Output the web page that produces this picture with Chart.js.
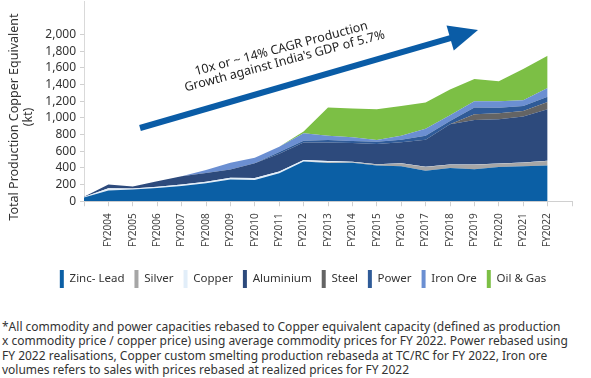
<!DOCTYPE html>
<html>
<head>
<meta charset="utf-8">
<script src="https://cdn.jsdelivr.net/npm/chart.js@4.4.0/dist/chart.umd.min.js"></script>
<style>
  html, body { margin: 0; padding: 0; background: #fff; }
  body { width: 591px; height: 378px; position: relative; overflow: hidden; font-family: 'Noto Sans', sans-serif; }
  #wrap { position: absolute; left: 0; top: -10px; width: 591px; height: 308px; }
  #note { position: absolute; left: 2px; top: 320px; font-size: 12px; line-height: 14.3px; color: #333; white-space: nowrap; }
</style>
</head>
<body>
<div id="wrap"><canvas id="chart"></canvas></div>
<div id="note">*All commodity and power capacities rebased to Copper equivalent capacity (defined as production<br>x commodity price / copper price) using average commodity prices for FY 2022. Power rebased using<br>FY 2022 realisations, Copper custom smelting production rebaseda at TC/RC for FY 2022, Iron ore<br>volumes refers to sales with prices rebased at realized prices for FY 2022</div>
<script>
// x categories: first point (FY2003) and a spare slot at the end have no label
const years = ['', 'FY2004', 'FY2005', 'FY2006', 'FY2007', 'FY2008', 'FY2009', 'FY2010', 'FY2011', 'FY2012',
    'FY2013', 'FY2014', 'FY2015', 'FY2016', 'FY2017', 'FY2018', 'FY2019', 'FY2020', 'FY2021', 'FY2022', ''];

// Copper equivalent production (kt)
const zincLead  = [45, 130, 140, 160, 184, 215, 260, 255, 336, 478, 458, 462, 430, 419, 366, 400, 383, 411, 419, 430];
const silver    = [0, 0, 0, 0, 0, 0, 0, 0, 0, 0, 10, 6, 12, 35, 46, 39, 56, 40, 44, 53];
const copper    = [5, 25, 14, 14, 18, 20, 22, 23, 21, 16, 14, 6, 2, 2, 2, 2, 2, 2, 2, 2];
const aluminium = [5, 45, 22, 67, 98, 105, 100, 177, 213, 211, 223, 226, 244, 252, 323, 484, 534, 531, 551, 618];
const steel     = [0, 0, 0, 0, 0, 0, 0, 0, 0, 0, 0, 0, 0, 0, 0, 0, 70, 72, 67, 87];
const power     = [0, 0, 0, 0, 0, 0, 0, 0, 20, 22, 30, 22, 27, 31, 49, 39, 80, 67, 59, 64];
const ironOre   = [0, 0, 0, 0, 0, 35, 80, 67, 65, 88, 51, 45, 20, 47, 84, 68, 76, 78, 71, 106];
const oilGas    = [0, 0, 0, 0, 0, 0, 0, 0, 0, 23, 338, 346, 368, 356, 316, 308, 266, 238, 373, 387];

const yTicks = [0, 200, 400, 600, 800, 1000, 1200, 1400, 1600, 1800, 2000];

const series = [
    ['Zinc- Lead', zincLead, '#0b5fa5'],
    ['Silver', silver, '#a6a6a6'],
    ['Copper', copper, '#e2eef9'],
    ['Aluminium', aluminium, '#2d4a7c'],
    ['Steel', steel, '#646464'],
    ['Power', power, '#2f5b98'],
    ['Iron Ore', ironOre, '#6b8fd2'],
    ['Oil & Gas', oilGas, '#7cbf45']
];

const FONT = "'Noto Sans', sans-serif";
const SHIFT = 10; // canvas sits 10px above the page top

// arrow and its caption, plus the two-line y axis title
const decor = {
    id: 'decor',
    afterDraw(chart) {
        const ctx = chart.ctx;
        ctx.save();
        ctx.translate(0, SHIFT);

        // y title
        ctx.save();
        ctx.fillStyle = '#333';
        ctx.font = '12.5px ' + FONT;
        ctx.textAlign = 'center';
        ctx.textBaseline = 'middle';
        ctx.translate(14, 117);
        ctx.rotate(-Math.PI / 2);
        ctx.fillText('Total Production Copper Equivalent', 0, 0);
        ctx.fillText('(kt)', 0, 14);
        ctx.restore();

        // arrow
        const x0 = 140, y0 = 128, tx = 478, ty = 30;
        const dx = tx - x0, dy = ty - y0, len = Math.hypot(dx, dy);
        const ux = dx / len, uy = dy / len, nx = -uy, ny = ux;
        const headLen = 29, headW = 13;
        const bx = tx - ux * headLen, by = ty - uy * headLen;
        ctx.strokeStyle = '#0a5ca6';
        ctx.fillStyle = '#0a5ca6';
        ctx.lineWidth = 6;
        ctx.beginPath();
        ctx.moveTo(x0, y0);
        ctx.lineTo(bx + ux * 2, by + uy * 2);
        ctx.stroke();
        ctx.beginPath();
        ctx.moveTo(tx, ty);
        ctx.lineTo(bx + nx * headW, by + ny * headW);
        ctx.lineTo(bx - nx * headW, by - ny * headW);
        ctx.closePath();
        ctx.fill();

        // caption
        ctx.fillStyle = '#222';
        ctx.font = '12.5px ' + FONT;
        ctx.textAlign = 'center';
        ctx.textBaseline = 'middle';
        ctx.translate(283, 55);
        ctx.rotate(-15 * Math.PI / 180);
        ctx.fillText('10x or ~ 14% CAGR Production', 0, -6.5);
        ctx.fillText("Growth against India's GDP of 5.7%", 0, 6.5);
        ctx.restore();
    }
};

new Chart(document.getElementById('chart'), {
    type: 'line',
    data: {
        labels: years,
        datasets: series.map(([name, values, color], i) => ({
            label: name,
            data: values,
            backgroundColor: color,
            borderColor: color,
            borderWidth: 0,
            pointRadius: 0,
            tension: 0,
            fill: i === 0 ? 'origin' : '-1'
        }))
    },
    options: {
        responsive: true,
        maintainAspectRatio: false,
        animation: false,
        layout: { padding: { left: 34, right: 19, top: 0, bottom: 0 } },
        plugins: {
            legend: {
                position: 'bottom',
                labels: {
                    boxWidth: 4,
                    boxHeight: 18,
                    padding: 10,
                    color: '#333',
                    font: { family: FONT, size: 11.5 }
                }
            },
            tooltip: { enabled: false }
        },
        scales: {
            x: {
                stacked: true,
                offset: false,
                afterFit(axis) { axis.height += 6; },
                grid: { drawOnChartArea: false, tickLength: 5, color: '#d0d0d0' },
                border: { color: '#d0d0d0' },
                ticks: {
                    autoSkip: false,
                    minRotation: 90,
                    maxRotation: 90,
                    padding: 7,
                    color: '#444',
                    font: { family: FONT, size: 10 }
                }
            },
            y: {
                stacked: true,
                min: 0,
                max: 2400,
                afterFit(axis) { axis.width = 50; },
                afterBuildTicks(axis) { axis.ticks = yTicks.map(v => ({ value: v })); },
                grid: { drawOnChartArea: false, tickLength: 4, color: '#d0d0d0' },
                border: { color: '#d9d9d9' },
                ticks: {
                    padding: 4,
                    color: '#333',
                    font: { family: FONT, size: 12 },
                    callback: v => v.toLocaleString('en-US')
                }
            }
        }
    },
    plugins: [decor]
});
</script>
</body>
</html>
